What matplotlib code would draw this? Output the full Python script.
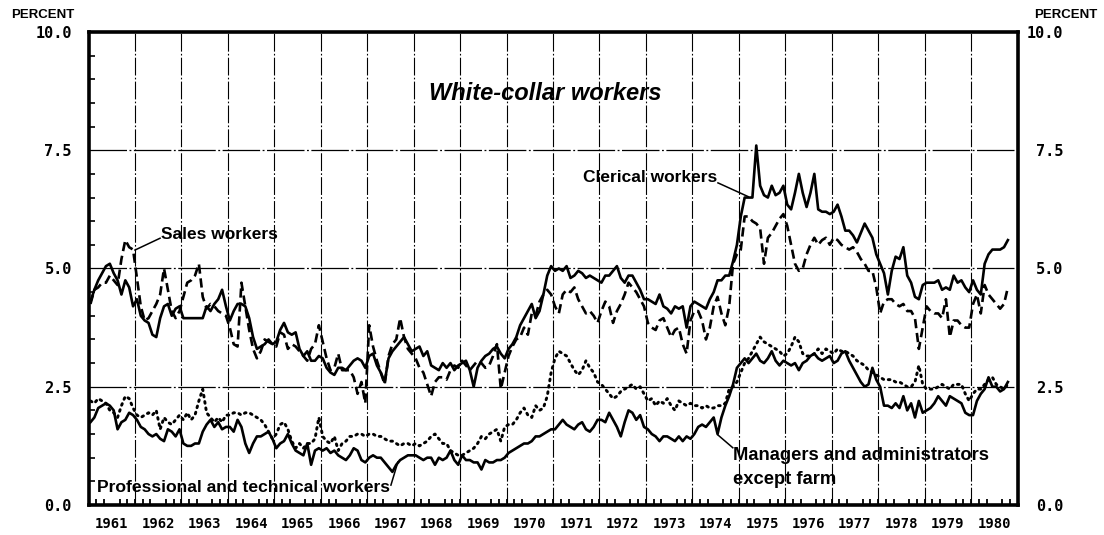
import numpy as np
import matplotlib
matplotlib.use("Agg")
import matplotlib.pyplot as plt

# monthly unemployment rates, Jan 1961 - Oct 1980
clerical = [
    4.3, 4.55, 4.75, 4.9, 5.05, 5.1, 4.9, 4.75, 4.45, 4.75, 4.6, 4.2,
    4.35, 4.0, 3.9, 3.85, 3.6, 3.55, 3.95, 4.2, 4.25, 4.0, 4.15, 4.2,
    3.95, 3.95, 3.95, 3.95, 3.95, 3.95, 4.2, 4.1, 4.25, 4.35, 4.55, 4.2,
    3.9, 4.1, 4.25, 4.25, 4.2, 3.95, 3.55, 3.3, 3.35, 3.4, 3.5, 3.4,
    3.45, 3.7, 3.85, 3.65, 3.6, 3.65, 3.3, 3.15, 3.25, 3.05, 3.05, 3.15,
    3.1, 2.9, 2.8, 2.75, 2.9, 2.9, 2.85, 2.95, 3.05, 3.1, 3.05, 2.9,
    3.15, 3.2, 2.95, 2.8, 2.6, 3.1, 3.25, 3.35, 3.45, 3.55, 3.4, 3.25,
    3.3, 3.35, 3.15, 3.25, 2.95, 2.9, 2.85, 3.0, 2.9, 3.0, 2.85, 2.95,
    3.0, 3.05, 2.85, 2.5, 2.9, 3.05, 3.15, 3.2, 3.3, 3.35, 3.2, 3.1,
    3.3, 3.4, 3.55, 3.8, 3.95, 4.1, 4.25, 3.95, 4.1, 4.45, 4.85, 5.05,
    4.95, 5.0, 4.95, 5.05, 4.8, 4.85, 4.95, 4.9, 4.8, 4.85, 4.8, 4.75,
    4.7, 4.85, 4.85, 4.95, 5.05, 4.8, 4.7, 4.85, 4.85, 4.7, 4.55, 4.35,
    4.35, 4.3, 4.25, 4.45, 4.2, 4.15, 4.05, 4.2, 4.15, 4.2, 3.75, 4.2,
    4.3, 4.25, 4.2, 4.15, 4.35, 4.5, 4.75, 4.75, 4.85, 4.85, 5.15, 5.5,
    6.1, 6.5, 6.5, 6.5, 7.6, 6.75, 6.55, 6.5, 6.75, 6.55, 6.6, 6.75,
    6.35, 6.25, 6.6, 7.0, 6.6, 6.3, 6.6, 7.0, 6.25, 6.2, 6.2, 6.15,
    6.2, 6.35, 6.1, 5.8, 5.8, 5.7, 5.55, 5.75, 5.95, 5.8, 5.65, 5.3,
    5.1, 4.9, 4.45, 4.95, 5.25, 5.2, 5.45, 4.85, 4.7, 4.4, 4.35, 4.65,
    4.7, 4.7, 4.7, 4.75, 4.55, 4.6, 4.55, 4.85, 4.7, 4.75, 4.6, 4.5,
    4.75, 4.55, 4.45, 5.1, 5.3, 5.4, 5.4, 5.4, 5.45, 5.6,
]
sales = [
    4.25, 4.55, 4.6, 4.7, 4.7, 4.85, 4.75, 4.65, 5.2, 5.6, 5.45, 5.4,
    4.8, 4.2, 3.9, 3.95, 4.1, 4.25, 4.45, 5.0, 4.55, 4.1, 3.95, 4.1,
    4.4, 4.7, 4.75, 4.85, 5.1, 4.4, 4.15, 4.25, 4.2, 4.1, 4.05, 4.0,
    3.75, 3.4, 3.35, 4.7, 4.2, 3.7, 3.3, 3.1, 3.25, 3.5, 3.45, 3.4,
    3.35, 3.65, 3.6, 3.3, 3.4, 3.35, 3.25, 3.15, 3.05, 3.3, 3.4, 3.8,
    3.45, 3.1, 2.85, 2.9, 3.2, 2.85, 2.85, 2.85, 2.7, 2.35, 2.6, 2.15,
    3.8, 3.35, 3.05, 2.8, 2.55, 3.15, 3.4, 3.5, 3.95, 3.55, 3.3, 3.2,
    3.1, 2.9, 2.8, 2.55, 2.3, 2.6, 2.7, 2.7, 2.65, 2.85, 2.95, 2.9,
    3.05, 2.95, 2.85, 2.95, 3.05, 3.0, 2.9, 2.95, 3.15, 3.4, 2.45, 2.8,
    3.15, 3.35, 3.5, 3.55, 3.75, 3.6, 4.05, 4.0, 4.3, 4.45, 4.55, 4.45,
    4.2, 4.05, 4.45, 4.55, 4.5, 4.6, 4.35, 4.2, 4.05, 4.1, 4.0, 3.85,
    4.1, 4.3, 4.2, 3.85, 4.1, 4.25, 4.45, 4.7, 4.6, 4.5, 4.35, 4.2,
    3.85, 3.75, 3.7, 3.9, 3.95, 3.75, 3.55, 3.7, 3.75, 3.4, 3.2, 3.9,
    4.1, 4.1, 3.9, 3.5, 3.75, 4.2, 4.4, 4.05, 3.8, 4.2, 5.1, 5.3,
    5.4, 6.1, 6.1, 6.0, 5.95, 5.85, 5.1, 5.65, 5.75, 5.9, 6.05, 6.15,
    5.9, 5.5, 5.1, 4.95, 5.0, 5.3, 5.5, 5.65, 5.5, 5.6, 5.65, 5.5,
    5.65, 5.6, 5.5, 5.45, 5.4, 5.45, 5.35, 5.2, 5.1, 4.95, 4.95, 4.6,
    4.05, 4.3, 4.35, 4.35, 4.25, 4.2, 4.25, 4.1, 4.1, 3.95, 3.3, 3.75,
    4.2, 4.1, 4.05, 4.05, 3.95, 4.35, 3.55, 3.9, 3.9, 3.8, 3.75, 3.75,
    4.25, 4.45, 4.05, 4.65, 4.45, 4.35, 4.25, 4.15, 4.25, 4.6,
]
professional = [
    2.2, 2.15, 2.25, 2.2, 2.15, 2.0, 1.95, 1.85, 2.1, 2.3, 2.25, 2.05,
    1.9, 1.85, 1.9, 1.95, 1.9, 2.0, 1.6, 1.85, 1.75, 1.7, 1.8, 1.9,
    1.8, 1.95, 1.8, 1.9, 2.2, 2.45, 1.95, 1.85, 1.75, 1.85, 1.75, 1.9,
    1.9, 1.95, 1.95, 1.9, 1.95, 1.95, 1.9, 1.85, 1.8, 1.7, 1.55, 1.4,
    1.5, 1.7, 1.75, 1.6, 1.35, 1.2, 1.3, 1.2, 1.3, 1.3, 1.4, 1.85,
    1.45, 1.35, 1.3, 1.45, 1.15, 1.3, 1.35, 1.45, 1.45, 1.5, 1.5, 1.45,
    1.5, 1.5, 1.45, 1.45, 1.4, 1.35, 1.35, 1.3, 1.25, 1.3, 1.3, 1.25,
    1.3, 1.25, 1.3, 1.35, 1.45, 1.5, 1.4, 1.3, 1.3, 1.15, 1.1, 1.05,
    1.05, 1.1, 1.15, 1.2, 1.3, 1.45, 1.4, 1.5, 1.55, 1.6, 1.35, 1.65,
    1.7, 1.7, 1.8, 1.95, 2.05, 1.9, 1.85, 2.1, 2.0, 2.05, 2.3, 2.8,
    3.1, 3.25, 3.2, 3.15, 3.0, 2.85, 2.75, 2.85, 3.05, 2.9, 2.8, 2.6,
    2.55, 2.45, 2.35, 2.25, 2.3, 2.4, 2.45, 2.5, 2.55, 2.45, 2.5, 2.35,
    2.2, 2.25, 2.1, 2.2, 2.15, 2.25, 2.1, 2.0, 2.2, 2.15, 2.1, 2.15,
    2.1, 2.1, 2.05, 2.1, 2.05, 2.05, 2.1, 2.1, 2.15, 2.45, 2.5, 2.6,
    2.8, 3.0, 3.1, 3.25, 3.4, 3.55, 3.45, 3.4, 3.35, 3.3, 3.25, 3.15,
    3.2, 3.35, 3.55, 3.45, 3.2, 3.15, 3.15, 3.2, 3.3, 3.2, 3.3, 3.25,
    3.2, 3.3, 3.25, 3.25, 3.2, 3.15, 3.05, 3.0, 2.95, 2.85, 2.8, 2.75,
    2.7, 2.65, 2.65, 2.65, 2.6, 2.6, 2.55, 2.5, 2.5, 2.6, 2.95, 2.55,
    2.45, 2.45, 2.45, 2.5, 2.55, 2.5, 2.45, 2.55, 2.55, 2.55, 2.35, 2.2,
    2.35, 2.45, 2.45, 2.55, 2.65, 2.7, 2.55, 2.5, 2.45, 2.55,
]
managers = [
    1.75, 1.85, 2.05, 2.1, 2.15, 2.1, 2.0, 1.6, 1.75, 1.8, 1.95, 1.9,
    1.8, 1.65, 1.6, 1.5, 1.45, 1.5, 1.4, 1.35, 1.6, 1.55, 1.45, 1.6,
    1.3, 1.25, 1.25, 1.3, 1.3, 1.55, 1.7, 1.8, 1.65, 1.75, 1.6, 1.65,
    1.65, 1.55, 1.8, 1.65, 1.3, 1.1, 1.3, 1.45, 1.45, 1.5, 1.55, 1.4,
    1.2, 1.3, 1.35, 1.5, 1.3, 1.15, 1.1, 1.05, 1.3, 0.85, 1.15, 1.2,
    1.15, 1.2, 1.1, 1.15, 1.05, 1.0, 0.95, 1.05, 1.2, 1.15, 0.95, 0.9,
    1.0, 1.05, 1.0, 1.0, 0.9, 0.8, 0.7, 0.85, 0.95, 1.0, 1.05, 1.05,
    1.05, 1.0, 0.95, 1.0, 1.0, 0.85, 1.0, 0.95, 1.0, 1.15, 0.95, 0.85,
    1.05, 0.95, 0.95, 0.9, 0.9, 0.75, 0.95, 0.9, 0.9, 0.95, 0.95, 1.0,
    1.1, 1.15, 1.2, 1.25, 1.3, 1.3, 1.35, 1.45, 1.45, 1.5, 1.55, 1.6,
    1.6, 1.7, 1.8, 1.7, 1.65, 1.6, 1.7, 1.75, 1.6, 1.55, 1.65, 1.8,
    1.8, 1.75, 1.95, 1.8, 1.65, 1.45, 1.75, 2.0, 1.95, 1.8, 1.9, 1.65,
    1.6, 1.5, 1.45, 1.35, 1.45, 1.45, 1.4, 1.35, 1.45, 1.35, 1.45, 1.4,
    1.5, 1.65, 1.7, 1.65, 1.75, 1.85, 1.5, 1.85, 2.1, 2.3, 2.55, 2.9,
    3.0, 3.1, 3.0, 3.1, 3.2, 3.05, 3.0, 3.1, 3.25, 3.05, 2.95, 3.05,
    3.0, 2.95, 3.0, 2.85, 3.0, 3.05, 3.15, 3.2, 3.1, 3.05, 3.1, 3.15,
    3.0, 3.05, 3.2, 3.25, 3.05, 2.9, 2.75, 2.6, 2.5, 2.55, 2.9, 2.65,
    2.5, 2.1, 2.1, 2.05, 2.15, 2.05, 2.3, 2.0, 2.15, 1.85, 2.2, 1.95,
    2.0, 2.05, 2.15, 2.3, 2.2, 2.1, 2.3, 2.25, 2.2, 2.15, 1.95, 1.9,
    1.9, 2.2, 2.35, 2.45, 2.7, 2.5, 2.5, 2.4, 2.45, 2.6,
]
years = list(range(1961, 1981))
y_ticks = [0.0, 2.5, 5.0, 7.5, 10.0]
y_labels = ["0.0", "2.5", "5.0", "7.5", "10.0"]

months = 1961 + (np.arange(len(clerical)) + 0.5) / 12

sans = "Liberation Sans"
mono = "DejaVu Sans Mono"

fig = plt.figure(figsize=(11.04, 5.35), dpi=100)
ax = fig.add_axes([0.0802, 0.0561, 0.8415, 0.8841])
ax.set_xlim(1961, 1981)
ax.set_ylim(0, 10)

# grid
ax.vlines(years[1:], 0, 10, colors="black", linewidth=0.8,
          linestyles=[(0, (16, 2, 1.5, 2))], zorder=1)
ax.hlines([2.5, 5.0, 7.5], 1961, 1981, colors="black", linewidth=0.9,
          linestyles=[(0, (30, 2, 1.5, 2))], zorder=1)

# series
ax.plot(months, clerical, color="black", lw=1.9, zorder=3)
ax.plot(months, sales, color="black", lw=1.9, ls=(0, (3.5, 1.8)), zorder=3)
ax.plot(months, professional, color="black", lw=2.1, ls=(0, (0.6, 1.6)),
        dash_capstyle="round", zorder=3)
ax.plot(months, managers, color="black", lw=1.9, zorder=3)

# axes styling
for sp in ax.spines.values():
    sp.set_linewidth(2.6)
    sp.set_zorder(5)

ax.set_xticks([y + 0.5 for y in years], [str(y) for y in years])
ax.set_xticks(np.arange(1961, 1981.001, 1 / 6), minor=True)
ax.tick_params(axis="x", which="major", length=0, pad=9)
ax.tick_params(axis="x", which="minor", direction="in", length=4, width=1.3,
               bottom=True, top=False)
for lbl in ax.get_xticklabels():
    lbl.set_fontfamily(mono)
    lbl.set_fontweight("bold")
    lbl.set_fontsize(10)

ax.set_yticks(y_ticks, y_labels)
ax.set_yticks(np.arange(0, 10.01, 0.5), minor=True)
ax.tick_params(axis="y", which="major", length=0, pad=12)
ax.tick_params(axis="y", which="minor", direction="in", length=4, width=1.2,
               left=True, right=True)
ax.yaxis.set_minor_formatter(plt.NullFormatter())
for lbl in ax.get_yticklabels():
    lbl.set_fontfamily(mono)
    lbl.set_fontweight("bold")
    lbl.set_fontsize(11)

ax2 = ax.twinx()
ax2.set_ylim(0, 10)
ax2.set_yticks(y_ticks, y_labels)
ax2.tick_params(axis="y", length=0, pad=33)
for sp in ax2.spines.values():
    sp.set_visible(False)
for lbl in ax2.get_yticklabels():
    lbl.set_fontfamily(mono)
    lbl.set_fontweight("bold")
    lbl.set_fontsize(11)
    lbl.set_horizontalalignment("right")

fig.text(42.5 / 1104, 1 - 15 / 535, "PERCENT", ha="center", va="center",
         fontsize=9.5, fontweight="bold", family=sans)
fig.text(1065.5 / 1104, 1 - 15 / 535, "PERCENT", ha="center", va="center",
         fontsize=9.5, fontweight="bold", family=sans)

# title and labels
ax.text(1970.83, 8.71, "White-collar workers", ha="center", va="center",
        fontsize=17, fontweight="bold", fontstyle="italic", family=sans)

lab = dict(fontweight="bold", family=sans, va="center", zorder=4)
ax.text(1974.53, 6.93, "Clerical workers", ha="right", fontsize=12.5, **lab)
ax.plot([1974.55, 1975.2], [6.81, 6.52], color="black", lw=1.1)

ax.text(1962.56, 5.71, "Sales workers", ha="left", fontsize=12.5, **lab)
ax.plot([1962.54, 1962.0], [5.64, 5.39], color="black", lw=1.1)

ax.text(1961.18, 0.36, "Professional and technical workers", ha="left",
        fontsize=12.6, **lab)
ax.plot([1967.51, 1967.66], [0.42, 0.91], color="black", lw=1.1)

ax.text(1974.87, 1.04, "Managers and administrators", ha="left",
        fontsize=13.2, **lab)
ax.text(1974.87, 0.53, "except farm", ha="left", fontsize=13.2, **lab)
ax.plot([1974.87, 1974.55], [1.21, 1.48], color="black", lw=1.1)

fig.savefig("out.png", dpi=100)
